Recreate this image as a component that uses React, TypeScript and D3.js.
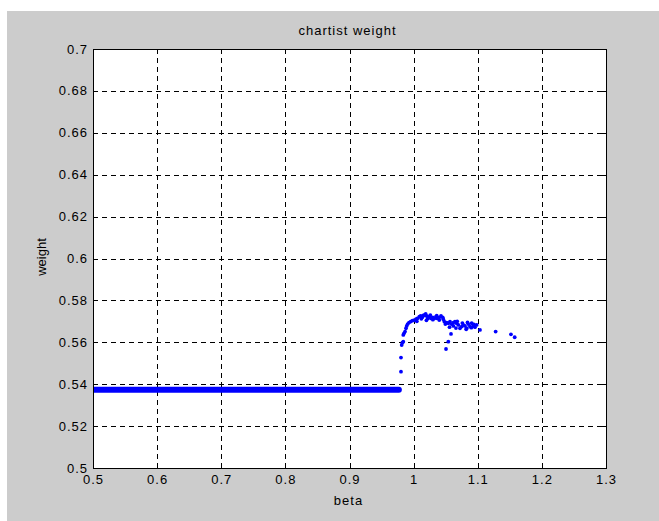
import React from "react";
import * as d3 from "d3";

const W = 659;
const H = 521;

const xTicks = [0.5, 0.6, 0.7, 0.8, 0.9, 1.0, 1.1, 1.2, 1.3];
const xTickLabels = ["0.5", "0.6", "0.7", "0.8", "0.9", "1", "1.1", "1.2", "1.3"];
const yTicks = [0.5, 0.52, 0.54, 0.56, 0.58, 0.6, 0.62, 0.64, 0.66, 0.68, 0.7];
const yTickLabels = ["0.5", "0.52", "0.54", "0.56", "0.58", "0.6", "0.62", "0.64", "0.66", "0.68", "0.7"];

// dense flat run of points (beta from, beta to) at constant weight
const flatBeta = [0.5, 0.977];
const flatWeight = [0.5373, 0.5373];

const betaValues = [
  0.9803, 0.9803, 0.9814, 0.9824, 0.9839, 0.9839, 0.985, 0.9866, 0.9881, 0.9892,
  0.9907, 0.9928, 0.9954, 0.998, 1.0011, 1.0037, 1.0058, 1.0089, 1.011, 1.0136,
  1.0167, 1.0188, 1.0203, 1.0219, 1.0245, 1.0271, 1.0297, 1.0323, 1.0349, 1.037,
  1.0401, 1.0427, 1.0453, 1.0463, 1.0479, 1.0495, 1.0505, 1.0515, 1.0541, 1.0541,
  1.0567, 1.0583, 1.0593, 1.0619, 1.0645, 1.0671, 1.0697, 1.0723, 1.0749, 1.0775,
  1.0801, 1.0827, 1.0853, 1.0879, 1.0905, 1.0931, 1.0957, 1.0983, 1.1035, 1.1279,
  1.1518, 1.1576, 1.005, 1.012, 1.02, 1.03, 1.04, 1.056, 1.062, 1.068,
  1.076, 1.084, 1.09, 1.082, 1.066, 1.094, 1.015, 1.026, 1.036,
];
const weightValues = [
  0.546, 0.5527, 0.5587, 0.5598, 0.5603, 0.5635, 0.5643, 0.5651, 0.5667, 0.5678,
  0.5687, 0.5694, 0.5699, 0.5703, 0.5706, 0.571, 0.5714, 0.5722, 0.5726, 0.5719,
  0.573, 0.5735, 0.5726, 0.5714, 0.5722, 0.5714, 0.5719, 0.5714, 0.5722, 0.5714,
  0.5719, 0.5726, 0.5719, 0.571, 0.5699, 0.5687, 0.5568, 0.5694, 0.5691, 0.5603,
  0.5699, 0.564, 0.5687, 0.5694, 0.5699, 0.5691, 0.5683, 0.5667, 0.5675, 0.5683,
  0.5678, 0.5667, 0.5687, 0.5675, 0.5691, 0.5678, 0.5672, 0.5683, 0.5659, 0.5651,
  0.5638, 0.5624, 0.57, 0.5712, 0.5705, 0.5708, 0.5706, 0.5672, 0.5678, 0.57,
  0.5692, 0.5695, 0.567, 0.5662, 0.5668, 0.5685, 0.5728, 0.573, 0.5727,
];

const titleText = "chartist weight";
const xLabel = "beta";
const yLabel = "weight";

const PL = 93, PR = 606, PT = 49, PB = 468;

export default function App() {
  const x = d3.scaleLinear().domain([0.5, 1.3]).range([PL, PR]);
  const y = d3.scaleLinear().domain([0.5, 0.7]).range([PB, PT]);
  const flatLine = d3.line<number>()
    .x((_, i) => x(flatBeta[i]))
    .y((_, i) => y(flatWeight[i]))(flatBeta) || "";
  const font = "'Liberation Sans', Arial, Helvetica, sans-serif";
  const tickLen = 5;
  const ls = 1;
  return (
    <svg width={W} height={H} style={{ position: "absolute", left: 0, top: 0, display: "block" }} fontFamily={font}>
      <rect x={0} y={0} width={W} height={H} fill="#ffffff" />
      <rect x={7} y={11} width={W - 7} height={H - 11} fill="#cccccc" />
      <defs>
        <clipPath id="plotclip">
          <rect x={PL} y={PT} width={PR - PL} height={PB - PT} />
        </clipPath>
      </defs>
      <rect x={PL} y={PT} width={PR - PL} height={PB - PT} fill="#ffffff" />
      {/* grid */}
      <g stroke="#000" strokeWidth={1} strokeDasharray="5,4" shapeRendering="crispEdges">
        {xTicks.slice(1, -1).map((t) => (
          <line key={"gx" + t} x1={Math.round(x(t)) + 0.5} x2={Math.round(x(t)) + 0.5} y1={PT} y2={PB} />
        ))}
        {yTicks.slice(1, -1).map((t) => (
          <line key={"gy" + t} y1={Math.round(y(t)) + 0.5} y2={Math.round(y(t)) + 0.5} x1={PL} x2={PR} />
        ))}
      </g>
      {/* ticks */}
      <g stroke="#000" strokeWidth={1} shapeRendering="crispEdges">
        {xTicks.map((t) => (
          <g key={"tx" + t}>
            <line x1={Math.round(x(t)) + 0.5} x2={Math.round(x(t)) + 0.5} y1={PB} y2={PB - tickLen} />
            <line x1={Math.round(x(t)) + 0.5} x2={Math.round(x(t)) + 0.5} y1={PT} y2={PT + tickLen} />
          </g>
        ))}
        {yTicks.map((t) => (
          <g key={"ty" + t}>
            <line y1={Math.round(y(t)) + 0.5} y2={Math.round(y(t)) + 0.5} x1={PL} x2={PL + tickLen} />
            <line y1={Math.round(y(t)) + 0.5} y2={Math.round(y(t)) + 0.5} x1={PR} x2={PR - tickLen} />
          </g>
        ))}
      </g>
      {/* data */}
      <g clipPath="url(#plotclip)">
        <path d={flatLine} stroke="#0000ff" strokeWidth={6} strokeLinecap="round" fill="none" />
        {betaValues.map((b, i) => (
          <circle key={"p" + i} cx={x(b)} cy={y(weightValues[i])} r={1.9} fill="#0000ff" />
        ))}
      </g>
      {/* box */}
      <rect x={PL + 0.5} y={PT + 0.5} width={PR - PL} height={PB - PT} fill="none" stroke="#000" strokeWidth={1} shapeRendering="crispEdges" />
      {/* tick labels */}
      <g fontSize={13} fill="#000" letterSpacing={ls}>
        {xTicks.map((t, i) => (
          <text key={"lx" + t} x={x(t) + ls / 2} y={PB + 16} textAnchor="middle">{xTickLabels[i]}</text>
        ))}
        {yTicks.map((t, i) => (
          <text key={"ly" + t} x={PL - 5} y={y(t) + 4.5} textAnchor="end">{yTickLabels[i]}</text>
        ))}
      </g>
      <g fontSize={13} fill="#000" letterSpacing={ls} textAnchor="middle">
        <text x={347.5} y={35}>{titleText}</text>
        <text x={348.5} y={505}>{xLabel}</text>
      </g>
      <text transform={`translate(46,257) rotate(-90)`} textAnchor="middle" fontSize={13} fill="#000">{yLabel}</text>
    </svg>
  );
}
